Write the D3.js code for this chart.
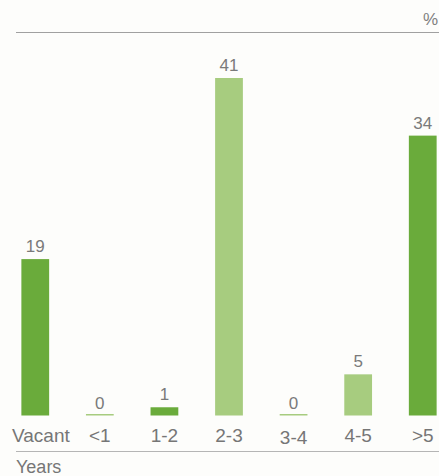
<!DOCTYPE html>
<html>
<head>
<meta charset="utf-8">
<script src="https://cdn.jsdelivr.net/npm/d3@7"></script>
<style>
  body { margin: 0; background: #fdfdfb; }
  text { font-family: "Liberation Sans", Arial, sans-serif; }
</style>
</head>
<body>
<div class="chart"></div>
<script>
var categories = ["Vacant", "<1", "1-2", "2-3", "3-4", "4-5", ">5"];
var values = [19, 0, 1, 41, 0, 5, 34];
var shades = ["dark", "light", "dark", "light", "light", "light", "dark"];

var svgWidth = 439;
var svgHeight = 476;

var margin = { top: 33, right: 0, bottom: 60, left: 16 };
var baseline = 415.5;

var svg = d3.select(".chart")
  .append("svg")
  .attr("width", svgWidth)
  .attr("height", svgHeight);

var colour = { dark: "#6aab3b", light: "#a7cc7f" };

var x = d3.scaleBand()
  .domain(categories)
  .range([2, 456])
  .paddingInner(0.57)
  .paddingOuter(0.3);

var y = d3.scaleLinear()
  .domain([0, 41])
  .range([baseline, 78]);

// top rule and unit
svg.append("line")
  .attr("x1", margin.left).attr("x2", svgWidth)
  .attr("y1", 32.5).attr("y2", 32.5)
  .attr("stroke", "#a0a0a0").attr("stroke-width", 1);

svg.append("text")
  .text("%")
  .attr("x", 438).attr("y", 25)
  .attr("text-anchor", "end")
  .attr("font-size", 17)
  .attr("fill", "#808080");

// bars
svg.append("g")
  .selectAll("rect")
  .data(values)
  .enter()
  .append("rect")
  .attr("x", function(d, i) { return x(categories[i]); })
  .attr("width", x.bandwidth())
  .attr("y", function(d) { return d === 0 ? baseline - 1.5 : y(d); })
  .attr("height", function(d) { return d === 0 ? 1.5 : baseline - y(d); })
  .attr("fill", function(d, i) { return colour[shades[i]]; });

// value labels
svg.append("g")
  .selectAll("text")
  .data(values)
  .enter()
  .append("text")
  .text(function(d) { return d; })
  .attr("x", function(d, i) { return x(categories[i]) + x.bandwidth() / 2; })
  .attr("y", function(d) { return y(d) - 7; })
  .attr("text-anchor", "middle")
  .attr("font-size", 17)
  .attr("fill", "#7a7a7a");

// category labels (first one kept inside the left edge)
svg.append("g")
  .selectAll("text")
  .data(categories)
  .enter()
  .append("text")
  .text(function(d) { return d; })
  .attr("x", function(d, i) { return i === 0 ? 12 : x(d) + x.bandwidth() / 2; })
  .attr("y", function(d) { return d === "3-4" ? 443.5 : 442; })
  .attr("text-anchor", function(d, i) { return i === 0 ? "start" : "middle"; })
  .attr("font-size", 19)
  .attr("fill", "#767676");

// bottom rule and axis title
svg.append("line")
  .attr("x1", margin.left).attr("x2", svgWidth)
  .attr("y1", 451.5).attr("y2", 451.5)
  .attr("stroke", "#b5b5b5").attr("stroke-width", 1);

svg.append("text")
  .text("Years")
  .attr("x", 16).attr("y", 473)
  .attr("font-size", 18)
  .attr("fill", "#767676");
</script>
</body>
</html>
